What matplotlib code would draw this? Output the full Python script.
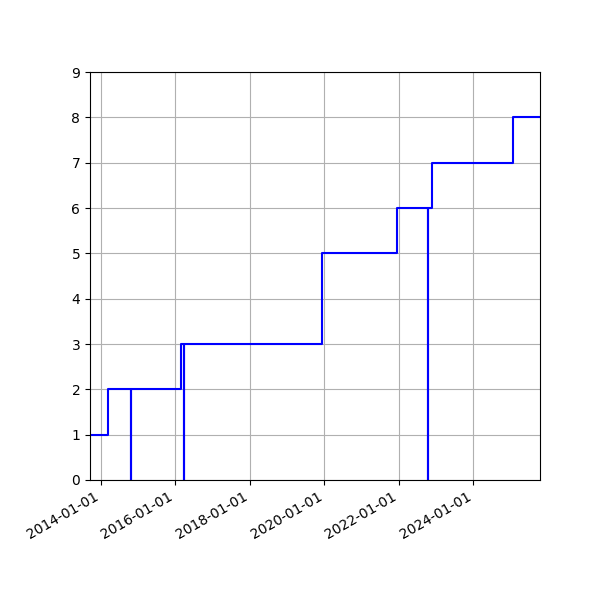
import matplotlib
matplotlib.use("Agg")
import matplotlib.pyplot as plt
import matplotlib.dates as mdates
import numpy as np

# step dates and the value held from that date on
dates = [
    "2013-09-16", "2014-03-10", "2014-10-25", "2014-10-25",
    "2016-02-22", "2016-03-27", "2016-03-27", "2019-12-12",
    "2021-12-12", "2022-10-18", "2022-10-18", "2022-11-22",
    "2025-01-26", "2025-10-16",
]
values = [1, 2, 0, 2, 3, 0, 3, 5, 6, 0, 6, 7, 8, 8]

x = np.array(dates, dtype="datetime64[D]")

fig, ax = plt.subplots(figsize=(6, 6), dpi=100)
ax.step(x, values, where="post", color="blue", linewidth=1.5)

ax.set_xlim(x[0], x[-1])
ax.set_ylim(0, 9)
ax.set_yticks(range(0, 10))
ax.xaxis.set_major_locator(mdates.YearLocator(2))
ax.xaxis.set_major_formatter(mdates.DateFormatter("%Y-%m-%d"))
ax.grid(True)

fig.autofmt_xdate()
fig.subplots_adjust(left=0.15, right=0.9, bottom=0.2, top=0.88)
fig.savefig("out.png")
